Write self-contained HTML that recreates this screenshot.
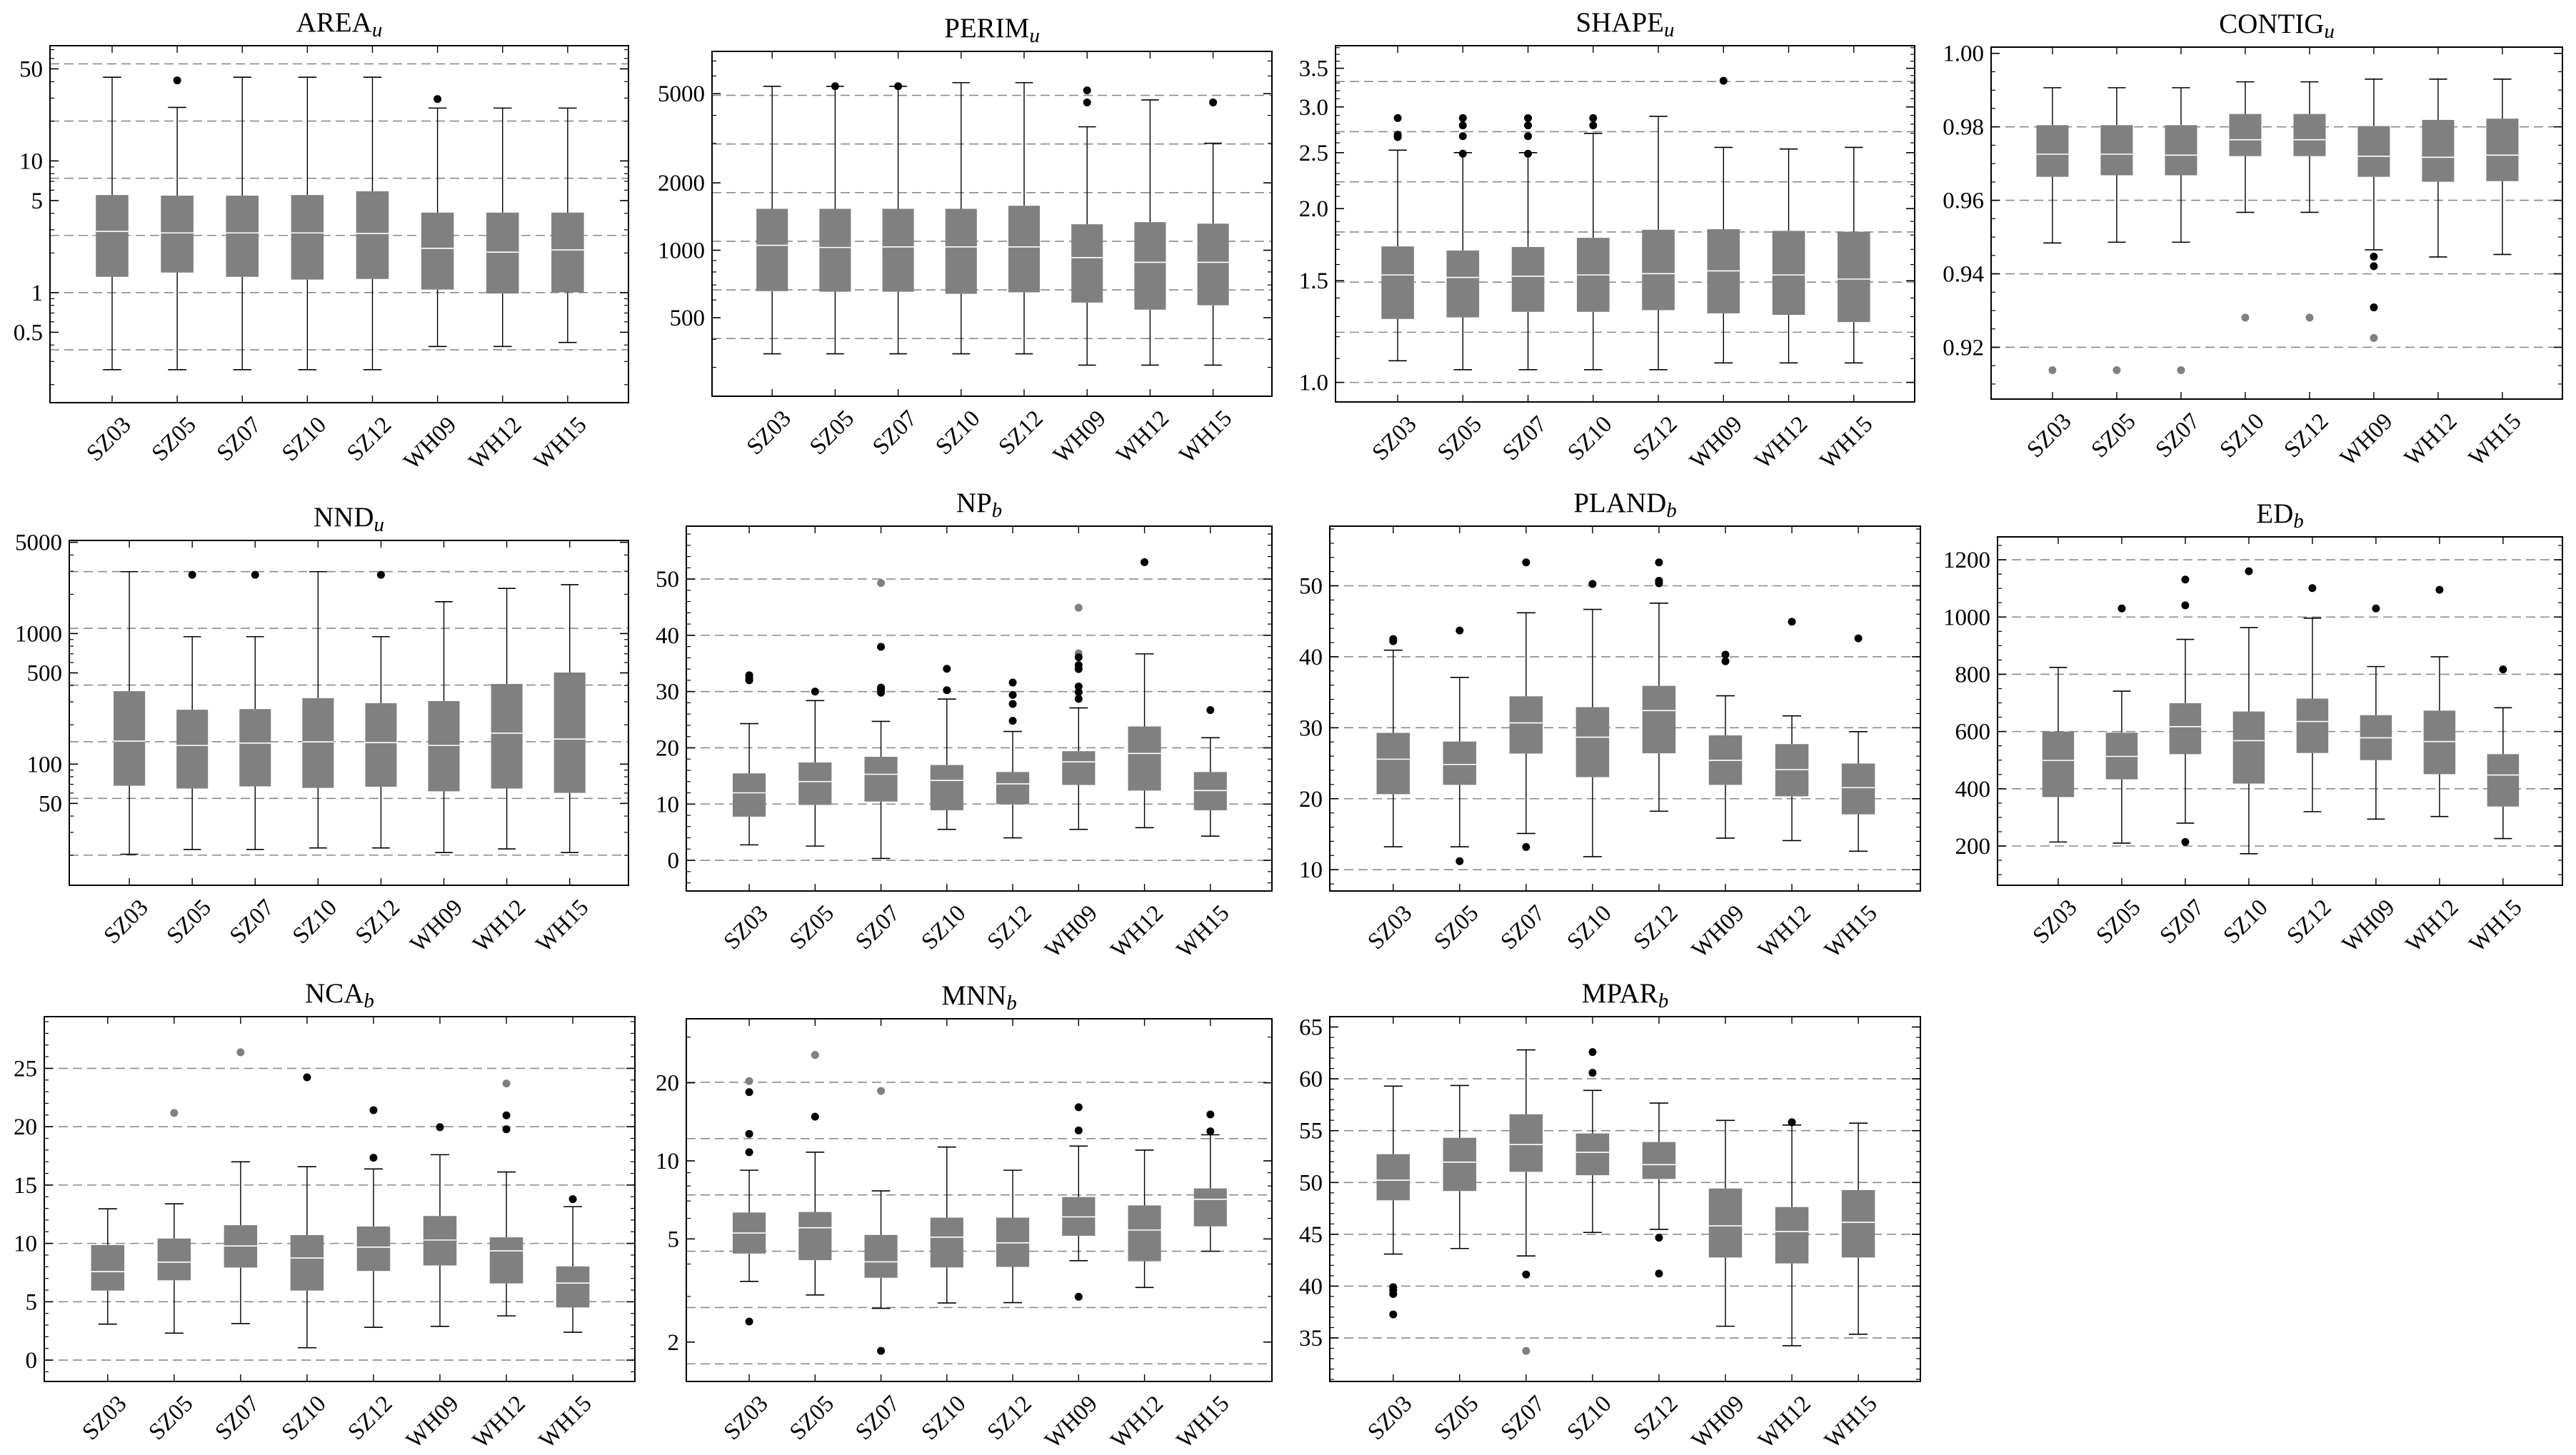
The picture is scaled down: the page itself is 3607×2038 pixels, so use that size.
<!DOCTYPE html>
<html><head><meta charset="utf-8"><title>Landscape metrics box plots</title>
<style>
html,body{margin:0;padding:0;background:#fff;}
svg{display:block;font-family:"Liberation Serif","DejaVu Serif",serif;}
</style></head>
<body>
<svg id="chart" xmlns="http://www.w3.org/2000/svg" width="3607" height="2038" viewBox="0 0 3607 2038"></svg>
<script>
// ---------- data ----------
const categories = ['SZ03','SZ05','SZ07','SZ10','SZ12','WH09','WH12','WH15'];

const areaHi  = [43.2,25.5,43.2,43.2,43.2,25.2,25.2,25.2];
const areaQ3  = [5.51,5.45,5.45,5.51,5.88,4.05,4.05,4.05];
const areaMed = [2.92,2.84,2.84,2.84,2.81,2.17,2.03,2.11];
const areaQ1  = [1.318,1.42,1.318,1.256,1.27,1.055,0.984,1.005];
const areaLo  = [0.26,0.26,0.26,0.26,0.26,0.39,0.39,0.418];
const areaOut = [[1,40.9,0],[5,29.5,0]];
const areaTicks = [0.5,1,5,10,50];
const areaTickLabels = ['0.5','1','5','10','50'];

const perimHi  = [5390,5390,5390,5600,5600,3556,4688,3003];
const perimQ3  = [1531,1531,1531,1531,1580,1306,1335,1314];
const perimMed = [1052,1029,1035,1035,1035,927,883,883];
const perimQ1  = [657,653,653,639,649,584,543,568];
const perimLo  = [345,345,345,345,345,307,307,307];
const perimOut = [[1,5400,0],[2,5400,0],[5,5172,0],[5,4570,0],[7,4570,0]];
const perimTicks = [500,1000,2000,5000];
const perimTickLabels = ['500','1000','2000','5000'];

const shapeHi  = [2.525,2.5,2.5,2.70,2.89,2.553,2.537,2.553];
const shapeQ3  = [1.72,1.692,1.716,1.78,1.838,1.842,1.83,1.824];
const shapeMed = [1.535,1.52,1.527,1.535,1.543,1.56,1.535,1.51];
const shapeQ1  = [1.288,1.296,1.325,1.325,1.334,1.317,1.309,1.272];
const shapeLo  = [1.09,1.052,1.052,1.052,1.052,1.081,1.081,1.081];
const shapeOut = [[0,2.87,0],[0,2.685,0],[0,2.66,0],[1,2.87,0],[1,2.787,0],[1,2.67,0],[1,2.49,0],[2,2.87,0],[2,2.787,0],[2,2.67,0],[2,2.49,0],[3,2.87,0],[3,2.787,0],[5,3.33,0]];
const shapeTicks = [1.0,1.5,2.0,2.5,3.0,3.5];
const shapeTickLabels = ['1.0','1.5','2.0','2.5','3.0','3.5'];

const contigHi  = [0.99065,0.99065,0.99065,0.99225,0.99225,0.9930,0.9930,0.9930];
const contigQ3  = [0.98046,0.98046,0.98046,0.9835,0.9835,0.9802,0.98189,0.98223];
const contigMed = [0.97255,0.97255,0.9723,0.9765,0.9765,0.9720,0.97171,0.97229];
const contigQ1  = [0.9664,0.96682,0.96682,0.97204,0.97204,0.9664,0.96505,0.96522];
const contigLo  = [0.9484,0.9486,0.9486,0.95672,0.95672,0.94653,0.94459,0.94526];
const contigOut = [[0,0.91377,1],[1,0.91377,1],[2,0.91377,1],[3,0.92808,1],[4,0.92808,1],[5,0.94467,0],[5,0.94206,0],[5,0.93086,0],[5,0.92253,1]];
const contigTicks = [0.92,0.94,0.96,0.98,1.00];
const contigTickLabels = ['0.92','0.94','0.96','0.98','1.00'];

const nndHi  = [2978,947,947,2978,947,1754,2218,2368];
const nndQ3  = [362,261,264,320,293,304,411,503];
const nndMed = [150,139,145,148,146,139,172.6,155.6];
const nndQ1  = [68.3,65,67.5,65.7,67.1,61.9,65,60.2];
const nndLo  = [20.4,22.2,22.2,22.8,22.8,21,22.4,21];
const nndOut = [[1,2820,0],[2,2820,0],[4,2820,0]];
const nndTicks = [50,100,500,1000,5000];
const nndTickLabels = ['50','100','500','1000','5000'];

const npHi  = [24.3,28.4,24.7,28.66,22.9,27.1,36.7,21.8];
const npQ3  = [15.46,17.4,18.4,16.94,15.7,19.4,23.8,15.7];
const npMed = [12.0,14.0,15.3,14.2,13.6,17.5,19.0,12.4];
const npQ1  = [7.76,9.85,10.45,8.9,9.96,13.4,12.4,8.9];
const npLo  = [2.75,2.53,0.33,5.5,4.0,5.5,5.8,4.3];
const npOut = [[0,32.9,0],[0,32.4,0],[0,32.0,0],[1,30.0,0],[2,49.3,1],[2,37.95,0],[2,30.7,0],[2,30.3,0],[2,29.8,0],[3,34.05,0],[3,30.25,0],[4,31.6,0],[4,29.4,0],[4,27.8,0],[4,24.8,0],[5,44.9,1],[5,36.8,1],[5,36.1,0],[5,34.7,0],[5,34.0,0],[5,30.9,0],[5,29.9,0],[5,28.7,0],[6,53.0,0],[7,26.7,0]];
const npTicks = [0,10,20,30,40,50];
const npTickLabels = ['0','10','20','30','40','50'];

const plandHi  = [40.93,37.09,46.2,46.68,47.56,34.5,31.68,29.45];
const plandQ3  = [29.28,28.06,34.43,32.9,35.9,28.93,27.7,24.96];
const plandMed = [25.57,24.83,30.68,28.67,32.42,25.4,24.1,21.56];
const plandQ1  = [20.64,21.95,26.36,23.04,26.4,21.95,20.34,17.8];
const plandLo  = [13.23,13.23,15.1,11.83,18.24,14.45,14.1,12.6];
const plandOut = [[0,42.5,0],[0,42.2,0],[1,43.7,0],[1,11.2,0],[2,53.3,0],[2,13.2,0],[3,50.26,0],[4,53.3,0],[4,50.7,0],[4,50.35,0],[5,40.3,0],[5,39.36,0],[6,44.94,0],[7,42.6,0]];
const plandTicks = [10,20,30,40,50];
const plandTickLabels = ['10','20','30','40','50'];

const edHi  = [824,741,922,963,996,827,861,683];
const edQ3  = [600,596,699,670,715,657,673,521];
const edMed = [499,513,617,568,635,578,565,448];
const edQ1  = [371,433,521,418,525,500,451,338];
const edLo  = [214,210,280,173,320,294,303,226];
const edOut = [[1,1030,0],[2,1131,0],[2,1041,0],[2,214,0],[3,1160,0],[4,1101,0],[5,1030,0],[6,1095,0],[7,817,0]];
const edTicks = [200,400,600,800,1000,1200];
const edTickLabels = ['200','400','600','800','1000','1200'];

const ncaHi  = [12.96,13.39,16.99,16.57,16.38,17.6,16.12,13.15];
const ncaQ3  = [9.86,10.42,11.56,10.71,11.45,12.35,10.52,8.03];
const ncaMed = [7.58,8.40,9.78,8.75,9.68,10.29,9.36,6.6];
const ncaQ1  = [5.96,6.84,7.93,5.96,7.64,8.11,6.57,4.51];
const ncaLo  = [3.08,2.31,3.13,1.06,2.81,2.89,3.79,2.39];
const ncaOut = [[1,21.18,1],[2,26.38,1],[3,24.23,0],[4,21.42,0],[4,17.34,0],[5,19.96,0],[6,23.7,1],[6,20.97,0],[6,19.78,0],[7,13.79,0]];
const ncaTicks = [0,5,10,15,20,25];
const ncaTickLabels = ['0','5','10','15','20','25'];

const mnnHi  = [9.2,10.8,7.66,11.3,9.2,11.4,11.0,12.6];
const mnnQ3  = [6.32,6.35,5.18,6.04,6.04,7.25,6.73,7.83];
const mnnMed = [5.27,5.52,4.08,5.08,4.83,6.08,5.41,7.11];
const mnnQ1  = [4.39,4.14,3.54,3.88,3.90,5.14,4.10,5.59];
const mnnLo  = [3.43,3.04,2.70,2.83,2.84,4.12,3.25,4.48];
const mnnOut = [[0,20.3,1],[0,18.4,0],[0,12.7,0],[0,10.8,0],[0,2.40,0],[1,25.6,1],[1,14.8,0],[2,18.6,1],[2,1.85,0],[5,16.1,0],[5,13.1,0],[5,2.99,0],[7,15.1,0],[7,13.0,0]];
const mnnTicks = [2,5,10,20];
const mnnTickLabels = ['2','5','10','20'];

const mparHi  = [59.3,59.36,62.79,58.88,57.66,55.99,55.54,55.72];
const mparQ3  = [52.73,54.31,56.58,54.73,53.9,49.42,47.63,49.27];
const mparMed = [50.22,51.96,53.66,52.91,51.72,45.81,45.27,46.16];
const mparQ1  = [48.28,49.18,51.03,50.70,50.34,42.76,42.19,42.76];
const mparLo  = [43.09,43.63,42.91,45.18,45.48,36.13,34.25,35.36];
const mparOut = [[0,39.9,0],[0,39.6,0],[0,39.24,0],[0,37.27,0],[2,41.12,0],[2,33.75,1],[3,62.58,0],[3,60.58,0],[4,44.67,0],[4,41.21,0],[6,55.81,0]];
const mparTicks = [35,40,45,50,55,60,65];
const mparTickLabels = ['35','40','45','50','55','60','65'];

// ---------- panel layout (positions / axis configuration) ----------
const E = Math.E;
const panels = [
 {key:'area',  title:'AREA',  sub:'u', box:[70,880,64,564],   log:true,  dom:[75,0.146],   grid:[-1,0,1,2,3,4].map(k=>Math.pow(E,k)), minor:'log',
  hi:areaHi,q3:areaQ3,med:areaMed,q1:areaQ1,lo:areaLo,out:areaOut,ticks:areaTicks,labels:areaTickLabels},
 {key:'perim', title:'PERIM', sub:'u', box:[997,1781,72,555], log:true,  dom:[7720,223],   grid:[6,6.5,7,7.5,8,8.5].map(k=>Math.pow(E,k)), minor:'log',
  hi:perimHi,q3:perimQ3,med:perimMed,q1:perimQ1,lo:perimLo,out:perimOut,ticks:perimTicks,labels:perimTickLabels},
 {key:'shape', title:'SHAPE', sub:'u', box:[1870,2681,64,563], log:true,  dom:[3.83,0.925], grid:[0,1,2,3,4,5,6].map(k=>Math.pow(E,0.2*k)), minor:0.1,
  hi:shapeHi,q3:shapeQ3,med:shapeMed,q1:shapeQ1,lo:shapeLo,out:shapeOut,ticks:shapeTicks,labels:shapeTickLabels},
 {key:'contig',title:'CONTIG',sub:'u', box:[2788,3588,66,559], log:false, dom:[1.0017,0.9059], grid:[0.92,0.94,0.96,0.98], minor:0.005,
  hi:contigHi,q3:contigQ3,med:contigMed,q1:contigQ1,lo:contigLo,out:contigOut,ticks:contigTicks,labels:contigTickLabels},
 {key:'nnd',   title:'NND',   sub:'u', box:[97,880,757,1240],  log:true,  dom:[5167,11.8],  grid:[3,4,5,6,7,8].map(k=>Math.pow(E,k)), minor:'log',
  hi:nndHi,q3:nndQ3,med:nndMed,q1:nndQ1,lo:nndLo,out:nndOut,ticks:nndTicks,labels:nndTickLabels},
 {key:'np',    title:'NP',    sub:'b', box:[961,1781,737,1248], log:false, dom:[59.4,-5.45], grid:[0,10,20,30,40,50], minor:2,
  hi:npHi,q3:npQ3,med:npMed,q1:npQ1,lo:npLo,out:npOut,ticks:npTicks,labels:npTickLabels},
 {key:'pland', title:'PLAND', sub:'b', box:[1862,2689,737,1248], log:false, dom:[58.4,7.0], grid:[10,20,30,40,50], minor:2,
  hi:plandHi,q3:plandQ3,med:plandMed,q1:plandQ1,lo:plandLo,out:plandOut,ticks:plandTicks,labels:plandTickLabels},
 {key:'ed',    title:'ED',    sub:'b', box:[2797,3588,752,1240], log:false, dom:[1280,62.8], grid:[200,400,600,800,1000,1200], minor:50,
  hi:edHi,q3:edQ3,med:edMed,q1:edQ1,lo:edLo,out:edOut,ticks:edTicks,labels:edTickLabels},
 {key:'nca',   title:'NCA',   sub:'b', box:[62,889,1424,1935], log:false, dom:[29.43,-1.83], grid:[0,5,10,15,20,25], minor:1,
  hi:ncaHi,q3:ncaQ3,med:ncaMed,q1:ncaQ1,lo:ncaLo,out:ncaOut,ticks:ncaTicks,labels:ncaTickLabels},
 {key:'mnn',   title:'MNN',   sub:'b', box:[961,1781,1427,1935], log:true, dom:[35.3,1.41], grid:[1,2,3,4,5,6].map(k=>Math.pow(E,k/2)), minor:'log',
  hi:mnnHi,q3:mnnQ3,med:mnnMed,q1:mnnQ1,lo:mnnLo,out:mnnOut,ticks:mnnTicks,labels:mnnTickLabels},
 {key:'mpar',  title:'MPAR',  sub:'b', box:[1862,2689,1424,1935], log:false, dom:[66.0,30.8], grid:[35,40,45,50,55,60], minor:1,
  hi:mparHi,q3:mparQ3,med:mparMed,q1:mparQ1,lo:mparLo,out:mparOut,ticks:mparTicks,labels:mparTickLabels}
];

const NS = 'http://www.w3.org/2000/svg';
const svg = document.getElementById('chart');
function mk(tag, attrs, parent){
  const el = document.createElementNS(NS, tag);
  for (const k in attrs) el.setAttribute(k, attrs[k]);
  parent.appendChild(el);
  return el;
}

panels.forEach(p => {
  const [x0,x1,y0,y1] = p.box;
  const W = x1 - x0;
  const g = mk('g', {}, svg);
  
  

  const tr = v => p.log ? Math.log10(v) : v;
  const tTop = tr(p.dom[0]), tBot = tr(p.dom[1]);
  const yScale = v => y0 + (tTop - tr(v)) / (tTop - tBot) * (y1 - y0);
  const xScale = i => x0 + W * (0.1074 + i * 0.1125);
  const boxW = W * 0.1125 * 0.5;
  const capW = W * 0.1125 * 0.28;

  // gridlines
  p.grid.forEach(v => {
    const y = yScale(v);
    const l = mk('line', {x1:x0, x2:x1, y1:y, y2:y, stroke:'#8a8a8a', 'stroke-width':1.6, 'stroke-dasharray':'13,7'}, g);
    
    
  });

  // minor ticks
  let minors = [];
  if (p.minor === 'log') {
    const lo = Math.floor(Math.log10(p.dom[1])) , hi = Math.ceil(Math.log10(p.dom[0]));
    for (let d = lo; d <= hi; d++) for (let m = 1; m <= 9; m++) minors.push(m * Math.pow(10, d));
  } else {
    const s = p.minor;
    const start = Math.ceil(Math.min(p.dom[0],p.dom[1]) / s);
    const end = Math.floor(Math.max(p.dom[0],p.dom[1]) / s);
    for (let k = start; k <= end; k++) minors.push(k * s);
  }
  minors.forEach(v => {
    if (v <= Math.min(p.dom[0],p.dom[1]) || v >= Math.max(p.dom[0],p.dom[1])) return;
    const y = yScale(v);
    mk('line', {x1:x0, x2:x0+6, y1:y, y2:y, stroke:'#000', 'stroke-width':1.2}, g);
    mk('line', {x1:x1-6, x2:x1, y1:y, y2:y, stroke:'#000', 'stroke-width':1.2}, g);
  });

  // major ticks + labels
  p.ticks.forEach((v, i) => {
    const y = yScale(v);
    mk('line', {x1:x0, x2:x0+12, y1:y, y2:y, stroke:'#000', 'stroke-width':1.6}, g);
    mk('line', {x1:x1-12, x2:x1, y1:y, y2:y, stroke:'#000', 'stroke-width':1.6}, g);
    const t = mk('text', {x:x0-10, y:y+11, 'text-anchor':'end', 'font-size':33, fill:'#000'}, g);
    t.textContent = p.labels[i];
    
    
  });

  // boxes
  categories.forEach((c, i) => {
    const x = xScale(i);
    const bg = mk('g', {}, g);
    
    
    const yHi = yScale(p.hi[i]), yQ3 = yScale(p.q3[i]), yMed = yScale(p.med[i]), yQ1 = yScale(p.q1[i]), yLo = yScale(p.lo[i]);
    mk('line', {x1:x, x2:x, y1:yHi, y2:yQ3, stroke:'#000', 'stroke-width':1.4}, bg);
    mk('line', {x1:x, x2:x, y1:yQ1, y2:yLo, stroke:'#000', 'stroke-width':1.4}, bg);
    mk('line', {x1:x-capW/2, x2:x+capW/2, y1:yHi, y2:yHi, stroke:'#000', 'stroke-width':1.6}, bg);
    mk('line', {x1:x-capW/2, x2:x+capW/2, y1:yLo, y2:yLo, stroke:'#000', 'stroke-width':1.6}, bg);
    mk('rect', {x:x-boxW/2, y:yQ3, width:boxW, height:yQ1-yQ3, fill:'#808080'}, bg);
    mk('line', {x1:x-boxW/2, x2:x+boxW/2, y1:yMed, y2:yMed, stroke:'#fff', 'stroke-width':1.6}, bg);

    // category ticks (bottom + top)
    mk('line', {x1:x, x2:x, y1:y1-10, y2:y1, stroke:'#000', 'stroke-width':1.4}, g);
    mk('line', {x1:x, x2:x, y1:y0, y2:y0+10, stroke:'#000', 'stroke-width':1.4}, g);

    const lx = x + 28, ly = y1 + 33;
    const t = mk('text', {x:lx, y:ly, 'text-anchor':'end', 'font-size':33, fill:'#000', transform:`rotate(-45 ${lx} ${ly})`}, g);
    t.textContent = c;
    
    
  });

  // outliers
  p.out.forEach(o => {
    const pt = mk('circle', {cx:xScale(o[0]), cy:yScale(o[1]), r:5.5, fill: o[2] ? '#808080' : '#000'}, g);
    
    
  });

  // frame
  const fr = mk('rect', {x:x0, y:y0, width:W, height:y1-y0, fill:'none', stroke:'#000', 'stroke-width':2}, g);
  
  

  // title
  const tt = mk('text', {x:(x0+x1)/2, y:y0-20, 'text-anchor':'middle', 'font-size':39, fill:'#000'}, g);
  
  
  tt.appendChild(document.createTextNode(p.title));
  const ts = mk('tspan', {'font-style':'italic', 'font-size':29, dy:7}, tt);
  ts.textContent = p.sub;
});
</script>
</body></html>
